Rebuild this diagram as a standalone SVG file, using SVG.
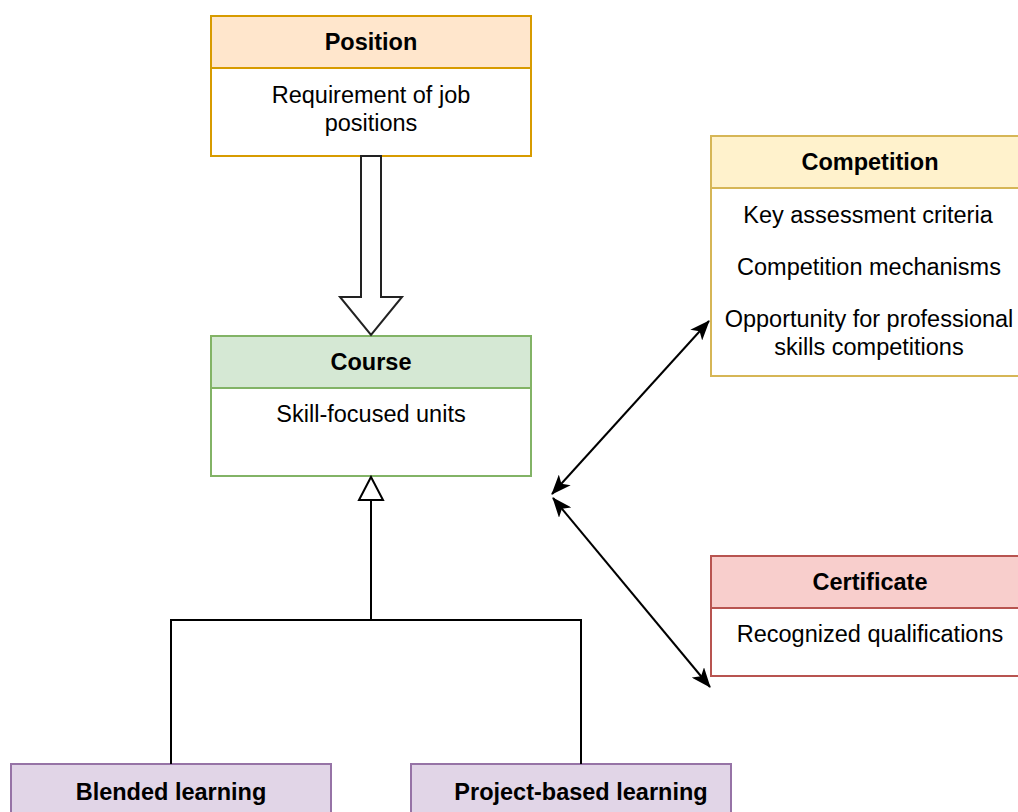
<svg xmlns="http://www.w3.org/2000/svg" width="1018" height="812" viewBox="0 0 1018 812">
<defs>
<style>
text{font-family:"Liberation Sans",Arial,sans-serif;font-size:23.5px;fill:#000;text-anchor:middle}
.t{font-weight:bold}
.body{fill:#fff;stroke-width:2}
.hd{stroke-width:2}
.orange{stroke:#d79b00}
.yellow{stroke:#d6b656}
.green{stroke:#82b366}
.red{stroke:#b85450}
.purple{stroke:#9673a6}
.ln{fill:none;stroke:#000;stroke-width:2}
</style>
<marker id="ah" viewBox="0 0 20 16" refX="19" refY="8" markerWidth="20" markerHeight="16" markerUnits="userSpaceOnUse" orient="auto-start-reverse">
<path d="M0,0 L20,8 L0,16 L5,8 Z" fill="#000"/>
</marker>
</defs>
<rect width="1018" height="812" fill="#fff"/>
<g id="position">
<rect class="body orange" x="211" y="16" width="320" height="140"/>
<rect class="hd orange" x="211" y="16" width="320" height="52" fill="#ffe6cc"/>
<text class="t" x="371" y="50">Position</text>
<text x="371" y="103">Requirement of job</text>
<text x="371" y="131">positions</text>
</g>
<g id="course">
<rect class="body green" x="211" y="336" width="320" height="140"/>
<rect class="hd green" x="211" y="336" width="320" height="52" fill="#d5e8d4"/>
<text class="t" x="371" y="370">Course</text>
<text x="371" y="422">Skill-focused units</text>
</g>
<g id="competition">
<rect class="body yellow" x="711" y="136" width="320" height="240"/>
<rect class="hd yellow" x="711" y="136" width="320" height="52" fill="#fff2cc"/>
<text class="t" x="870" y="170">Competition</text>
<text x="868" y="223">Key assessment criteria</text>
<text x="869" y="275">Competition mechanisms</text>
<text x="869" y="327">Opportunity for professional</text>
<text x="869" y="355">skills competitions</text>
</g>
<g id="certificate">
<rect class="body red" x="711" y="556" width="320" height="120"/>
<rect class="hd red" x="711" y="556" width="320" height="52" fill="#f8cecc"/>
<text class="t" x="870" y="590">Certificate</text>
<text x="870" y="642">Recognized qualifications</text>
</g>
<g id="blended">
<rect class="hd purple" x="11" y="764" width="320" height="60" fill="#e1d5e7"/>
<text class="t" x="171" y="800">Blended learning</text>
</g>
<g id="project">
<rect class="hd purple" x="411" y="764" width="320" height="60" fill="#e1d5e7"/>
<text class="t" x="581" y="800">Project-based learning</text>
</g>
<g id="connectors">
<path d="M361,156 L381,156 L381,297 L402,297 L371,335 L340,297 L361,297 Z" fill="#fff" stroke="#222" stroke-width="2" stroke-linejoin="miter"/>
<path class="ln" d="M171,764 L171,620 L581,620 L581,764 M371,620 L371,500"/>
<path d="M371,477 L383,500 L359,500 Z" fill="#fff" stroke="#000" stroke-width="2"/>
<line class="ln" x1="552" y1="494" x2="709" y2="321" marker-start="url(#ah)" marker-end="url(#ah)"/>
<line class="ln" x1="553" y1="498" x2="710" y2="687" marker-start="url(#ah)" marker-end="url(#ah)"/>
</g>
</svg>
